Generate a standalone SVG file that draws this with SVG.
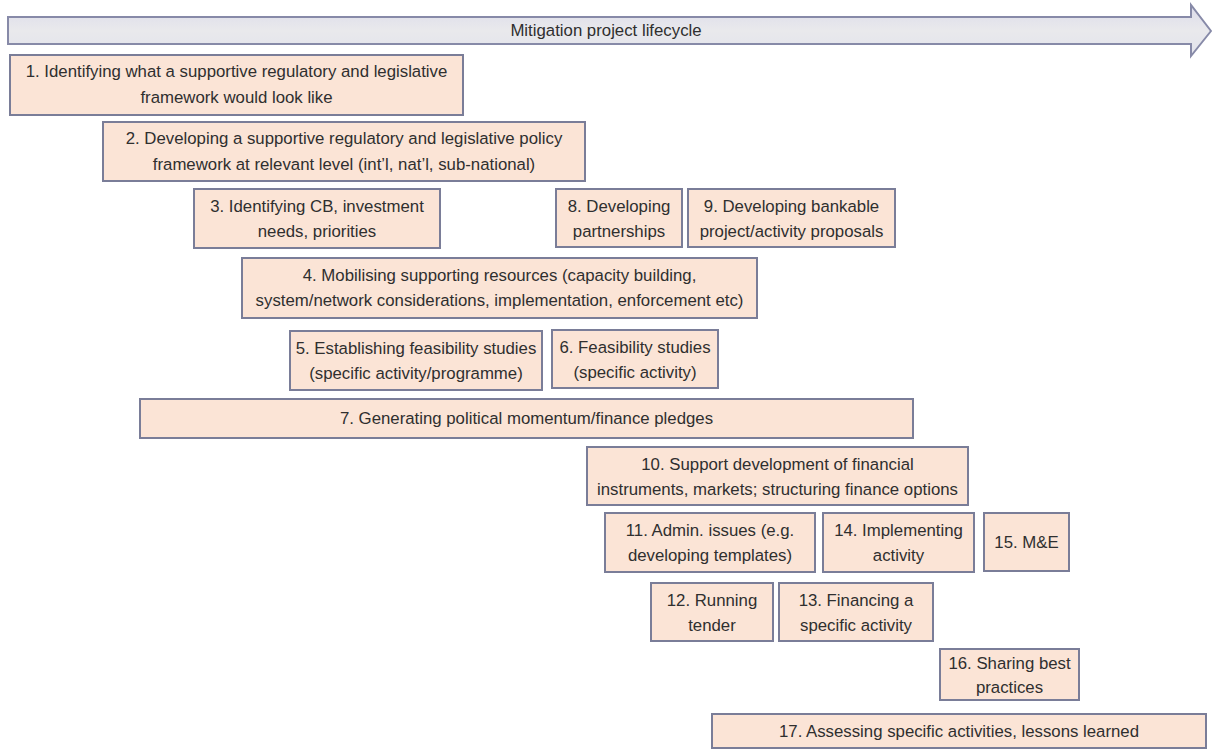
<svg xmlns="http://www.w3.org/2000/svg" width="1212" height="749" viewBox="0 0 1212 749">
<defs>
<linearGradient id="arrowGrad" x1="0" y1="0" x2="0" y2="1">
<stop offset="0" stop-color="#DCDCEA"/>
<stop offset="0.5" stop-color="#E9E9EC"/>
<stop offset="1" stop-color="#E2E3EC"/>
</linearGradient>
<style>
.box{fill:#FBE4D6;stroke:#7A7D98;stroke-width:2}
.t{font-family:"Liberation Sans",Arial,sans-serif;font-size:16.8px;fill:#2F2F2F;text-anchor:middle}
</style>
</defs>
<rect width="1212" height="749" fill="#FFFFFF"/>
<g id="lifecycle-arrow">
<path d="M8,17 H1191 V5 L1211,31 L1191,56 V44 H8 Z" fill="url(#arrowGrad)" stroke="#878AA8" stroke-width="2" stroke-linejoin="miter"/>
<text class="t" x="606" y="36">Mitigation project lifecycle</text>
</g>
<g id="connectors"></g>
<g id="n1"><rect class="box" x="10" y="55" width="453" height="60"/><text class="t" x="236.5" y="77">1. Identifying what a supportive regulatory and legislative</text><text class="t" x="236.5" y="103">framework would look like</text></g>
<g id="n2"><rect class="box" x="103" y="122" width="482" height="59"/><text class="t" x="344" y="144">2. Developing a supportive regulatory and legislative policy</text><text class="t" x="344" y="170">framework at relevant level (int’l, nat’l, sub-national)</text></g>
<g id="n3"><rect class="box" x="194" y="189" width="246" height="59"/><text class="t" x="317" y="212">3. Identifying CB, investment</text><text class="t" x="317" y="237">needs, priorities</text></g>
<g id="n8"><rect class="box" x="556" y="189" width="126" height="58"/><text class="t" x="619" y="212">8. Developing</text><text class="t" x="619" y="237">partnerships</text></g>
<g id="n9"><rect class="box" x="688" y="189" width="207" height="58"/><text class="t" x="791.5" y="212">9. Developing bankable</text><text class="t" x="791.5" y="237">project/activity proposals</text></g>
<g id="n4"><rect class="box" x="242" y="258" width="515" height="60"/><text class="t" x="499.5" y="281">4. Mobilising supporting resources (capacity building,</text><text class="t" x="499.5" y="306">system/network considerations, implementation, enforcement etc)</text></g>
<g id="n5"><rect class="box" x="290" y="331" width="252" height="59"/><text class="t" x="416" y="354">5. Establishing feasibility studies</text><text class="t" x="416" y="379">(specific activity/programme)</text></g>
<g id="n6"><rect class="box" x="552" y="330" width="166" height="58"/><text class="t" x="635" y="353">6. Feasibility studies</text><text class="t" x="635" y="378">(specific activity)</text></g>
<g id="n7"><rect class="box" x="140" y="399" width="773" height="39"/><text class="t" x="526.5" y="424">7. Generating political momentum/finance pledges</text></g>
<g id="n10"><rect class="box" x="587" y="447" width="381" height="58"/><text class="t" x="777.5" y="470">10. Support development of financial</text><text class="t" x="777.5" y="495">instruments, markets; structuring finance options</text></g>
<g id="n11"><rect class="box" x="605" y="513" width="210" height="59"/><text class="t" x="710" y="536">11. Admin. issues (e.g.</text><text class="t" x="710" y="561">developing templates)</text></g>
<g id="n14"><rect class="box" x="823" y="513" width="151" height="59"/><text class="t" x="898.5" y="536">14. Implementing</text><text class="t" x="898.5" y="561">activity</text></g>
<g id="n15"><rect class="box" x="984" y="513" width="85" height="58"/><text class="t" x="1026.5" y="548">15. M&amp;E</text></g>
<g id="n12"><rect class="box" x="651" y="583" width="122" height="58"/><text class="t" x="712" y="606">12. Running</text><text class="t" x="712" y="631">tender</text></g>
<g id="n13"><rect class="box" x="779" y="583" width="154" height="58"/><text class="t" x="856" y="606">13. Financing a</text><text class="t" x="856" y="631">specific activity</text></g>
<g id="n16"><rect class="box" x="940" y="649" width="139" height="51"/><text class="t" x="1009.5" y="669">16. Sharing best</text><text class="t" x="1009.5" y="693">practices</text></g>
<g id="n17"><rect class="box" x="712" y="714" width="494" height="34"/><text class="t" x="959" y="737">17. Assessing specific activities, lessons learned</text></g>
</svg>
